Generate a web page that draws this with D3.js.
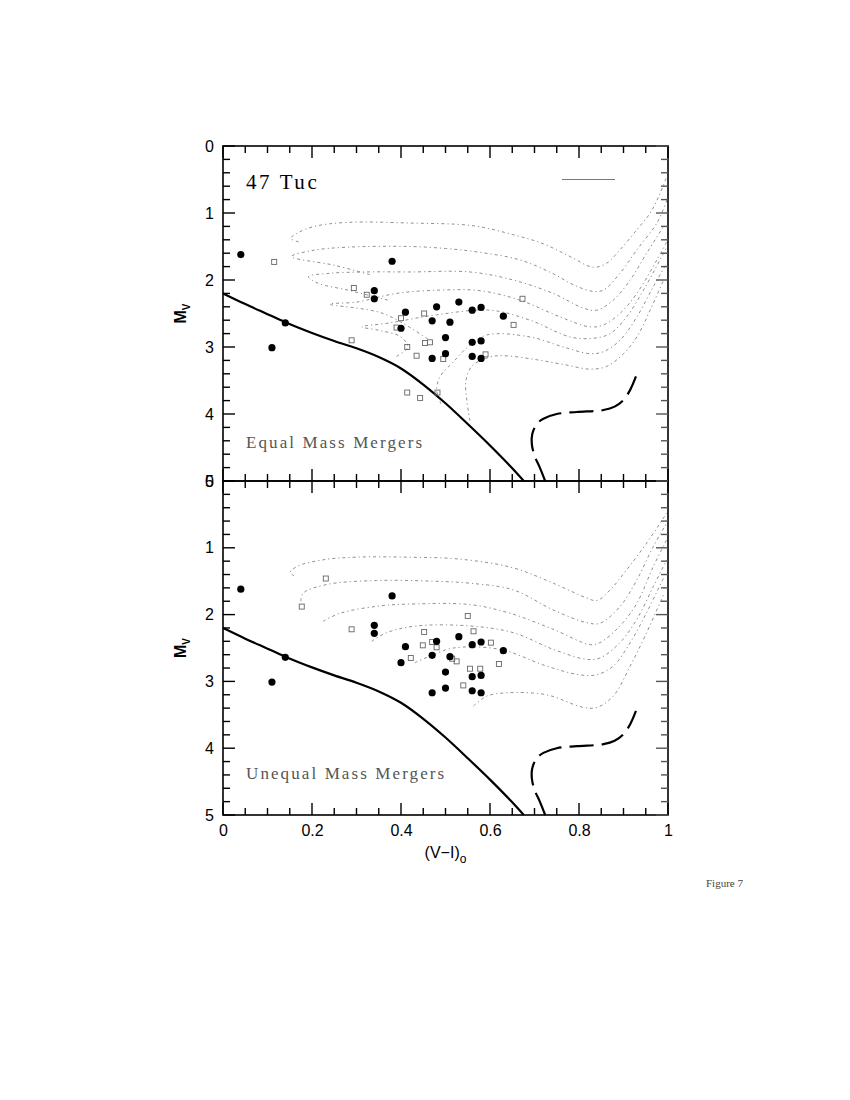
<!DOCTYPE html>
<html><head><meta charset="utf-8">
<script src="https://cdn.jsdelivr.net/npm/d3@7"></script>
<style>body{margin:0;background:#fff}</style>
</head><body>
<svg id="c" width="850" height="1100"></svg>
<script>
// ---- data ----
const xTickLabels = ["0","0.2","0.4","0.6","0.8","1"];
const xTickValues = [0,0.2,0.4,0.6,0.8,1];
const yTickValues = [0,1,2,3,4,5];
const yTickLabels = ["0","1","2","3","4","5"];
const panelTitles = ["Equal Mass Mergers","Unequal Mass Mergers"];
const clusterName = "47 Tuc";

// blue stragglers (filled circles), same in both panels
const stars = [[0.04,1.62],[0.38,1.72],[0.34,2.16],[0.34,2.28],[0.14,2.64],[0.11,3.01],
 [0.41,2.48],[0.48,2.40],[0.53,2.33],[0.56,2.45],[0.58,2.41],[0.63,2.54],[0.40,2.72],
 [0.47,2.61],[0.51,2.63],[0.50,2.86],[0.56,2.93],[0.58,2.91],[0.47,3.17],[0.50,3.10],
 [0.56,3.14],[0.58,3.17]];

// model merger products (open squares)
const equalSquares = [[0.115,1.73],[0.294,2.12],[0.323,2.22],[0.40,2.57],[0.452,2.50],
 [0.39,2.71],[0.289,2.90],[0.414,3.00],[0.454,2.94],[0.465,2.93],[0.435,3.13],[0.495,3.18],
 [0.414,3.68],[0.443,3.76],[0.482,3.68],[0.673,2.28],[0.653,2.67],[0.590,3.11]];
const unequalSquares = [[0.231,1.46],[0.177,1.88],[0.289,2.22],[0.452,2.26],[0.47,2.41],
 [0.48,2.49],[0.449,2.46],[0.422,2.65],[0.55,2.02],[0.563,2.25],[0.602,2.42],[0.525,2.70],
 [0.515,2.66],[0.62,2.74],[0.555,2.81],[0.578,2.81],[0.54,3.06]];

// ZAMS (solid) and giant branch (dashed)
const zams = [[0,2.2],[0.05,2.36],[0.1,2.51],[0.14,2.63],[0.2,2.79],[0.25,2.91],[0.3,3.02],
 [0.35,3.15],[0.4,3.32],[0.45,3.56],[0.5,3.84],[0.55,4.15],[0.6,4.47],[0.65,4.81],[0.676,5.0]];
const giant = [[0.724,5.0],[0.712,4.8],[0.70,4.62],[0.694,4.45],[0.695,4.3],[0.705,4.15],
 [0.72,4.07],[0.75,4.0],[0.795,3.97],[0.855,3.94],[0.88,3.89],[0.90,3.79],[0.915,3.64],[0.928,3.44]];

// evolutionary tracks (dotted)
const equalTracks = [
 [[0.17,1.43],[0.152,1.38],[0.17,1.29],[0.205,1.2],[0.28,1.14],[0.42,1.15],[0.562,1.19],[0.65,1.32],[0.72,1.46],[0.78,1.65],[0.832,1.81],[0.862,1.75],[0.892,1.55],[0.93,1.25],[0.96,1.0],[0.98,0.74],[0.997,0.46]],
 [[0.33,1.92],[0.25,1.78],[0.154,1.65],[0.2,1.56],[0.28,1.51],[0.42,1.50],[0.5,1.53],[0.57,1.58],[0.667,1.70],[0.74,1.9],[0.79,2.08],[0.832,2.17],[0.855,2.15],[0.892,1.9],[0.93,1.55],[0.975,1.15],[0.998,0.8]],
 [[0.37,2.3],[0.28,2.15],[0.214,2.05],[0.192,1.95],[0.24,1.9],[0.32,1.88],[0.42,1.88],[0.555,1.88],[0.652,2.0],[0.742,2.2],[0.81,2.42],[0.84,2.45],[0.877,2.3],[0.915,2.0],[0.952,1.6],[0.99,1.2]],
 [[0.46,2.88],[0.36,2.5],[0.24,2.36],[0.30,2.33],[0.39,2.2],[0.49,2.15],[0.578,2.16],[0.667,2.30],[0.757,2.55],[0.825,2.70],[0.855,2.67],[0.892,2.5],[0.93,2.2],[0.975,1.7],[0.998,1.42]],
 [[0.39,3.14],[0.415,3.0],[0.40,2.85],[0.35,2.75],[0.312,2.70],[0.375,2.64],[0.48,2.52],[0.6,2.45],[0.69,2.6],[0.78,2.85],[0.832,2.87],[0.87,2.8],[0.907,2.55],[0.945,2.15],[0.982,1.7],[0.998,1.5]],
 [[0.49,3.85],[0.48,3.64],[0.488,3.44],[0.518,3.22],[0.55,3.0],[0.593,2.82],[0.69,2.85],[0.765,3.0],[0.825,3.1],[0.855,3.07],[0.892,2.9],[0.93,2.55],[0.967,2.1],[0.997,1.75]],
 [[0.555,4.1],[0.548,3.8],[0.546,3.5],[0.56,3.28],[0.6,3.15],[0.63,3.13],[0.705,3.19],[0.772,3.27],[0.825,3.33],[0.862,3.29],[0.9,3.1],[0.93,2.85],[0.96,2.45],[0.99,2.0]]
];
const unequalTracks = [
 [[0.16,1.42],[0.151,1.37],[0.166,1.28],[0.225,1.18],[0.30,1.14],[0.413,1.14],[0.533,1.17],[0.652,1.30],[0.742,1.53],[0.817,1.75],[0.84,1.79],[0.87,1.63],[0.907,1.33],[0.952,0.93],[0.997,0.48]],
 [[0.175,1.8],[0.18,1.68],[0.233,1.55],[0.345,1.49],[0.473,1.50],[0.555,1.53],[0.652,1.63],[0.742,1.93],[0.817,2.12],[0.847,2.13],[0.892,1.88],[0.93,1.48],[0.967,0.98],[0.997,0.63]],
 [[0.225,2.1],[0.263,1.98],[0.353,1.87],[0.435,1.84],[0.555,1.85],[0.645,1.98],[0.742,2.22],[0.825,2.45],[0.847,2.42],[0.892,2.17],[0.93,1.83],[0.967,1.28],[0.997,0.88]],
 [[0.334,2.40],[0.368,2.27],[0.435,2.17],[0.555,2.17],[0.652,2.27],[0.742,2.52],[0.817,2.67],[0.847,2.65],[0.892,2.42],[0.93,2.07],[0.967,1.58],[0.997,1.18]],
 [[0.431,2.72],[0.473,2.60],[0.518,2.5],[0.622,2.52],[0.727,2.77],[0.80,2.90],[0.84,2.90],[0.877,2.77],[0.915,2.42],[0.952,1.97],[0.99,1.45]],
 [[0.563,3.37],[0.593,3.22],[0.64,3.17],[0.727,3.2],[0.81,3.39],[0.84,3.39],[0.877,3.22],[0.915,2.77],[0.952,2.27],[0.99,1.7]]
];

// ---- drawing ----
const svg = d3.select("#c");
const x = d3.scaleLinear().domain([0,1]).range([223,668]);
const panels = [
  {y: d3.scaleLinear().domain([0,5]).range([146,481]), squares: equalSquares, tracks: equalTracks, title: panelTitles[0], showX:false, titleY:448},
  {y: d3.scaleLinear().domain([0,5]).range([481,815]), squares: unequalSquares, tracks: unequalTracks, title: panelTitles[1], showX:true, titleY:779}
];
const sans = "'Liberation Sans', Arial, sans-serif";
const serif = "'Liberation Serif', 'Times New Roman', serif";

panels.forEach((p, i) => {
  const g = svg.append("g");
  const y = p.y;
  const line = d3.line().x(d => x(d[0])).y(d => y(d[1])).curve(d3.curveCatmullRom.alpha(0.5));
  const mline = d3.line().x(d => x(d[0])).y(d => y(d[1])).curve(d3.curveMonotoneX);

  // tracks
  g.selectAll(".trk").data(p.tracks).join("path")
    .attr("d", line).attr("fill","none").attr("stroke","#8f8f8f")
    .attr("stroke-width",1).attr("stroke-dasharray","3,3,1.2,3");

  // zams and giant branch
  g.append("path").datum(zams).attr("d", mline).attr("fill","none")
    .attr("stroke","#000").attr("stroke-width",2.2);
  g.append("path").datum(giant).attr("d", line).attr("fill","none")
    .attr("stroke","#000").attr("stroke-width",2.2).attr("stroke-dasharray","24,8");

  // squares
  g.selectAll(".sq").data(p.squares).join("rect")
    .attr("x", d => x(d[0]) - 2.5).attr("y", d => y(d[1]) - 2.5)
    .attr("width",5).attr("height",5).attr("fill","none")
    .attr("stroke","#666").attr("stroke-width",0.9);

  // stars
  g.selectAll(".st").data(stars).join("circle")
    .attr("cx", d => x(d[0])).attr("cy", d => y(d[1])).attr("r",3.6).attr("fill","#000");

  // frame and inward ticks
  const xMinor = d3.range(0, 1.0001, 0.05);
  const yMinor = d3.range(0, 5.0001, 0.2);
  g.append("rect").attr("x",x(0)).attr("y",y(0)).attr("width",x(1)-x(0)).attr("height",y(5)-y(0))
    .attr("fill","none").attr("stroke","#000").attr("stroke-width",1.6);
  const isMajorX = v => Math.abs(v*5 - Math.round(v*5)) < 1e-6;
  const isMajorY = v => Math.abs(v - Math.round(v)) < 1e-6;
  [[y(0),1],[y(5),-1]].forEach(([yy,dir]) => {
    g.selectAll(null).data(xMinor).join("line")
      .attr("x1", d => x(d)).attr("x2", d => x(d))
      .attr("y1", yy).attr("y2", d => yy + dir*(isMajorX(d)?12:7))
      .attr("stroke","#000").attr("stroke-width",1.4);
  });
  [[x(0),1],[x(1),-1]].forEach(([xx,dir]) => {
    g.selectAll(null).data(yMinor).join("line")
      .attr("y1", d => y(d)).attr("y2", d => y(d))
      .attr("x1", xx).attr("x2", d => xx + dir*(isMajorY(d)?12:7))
      .attr("stroke", dir>0 ? "#000" : "#555").attr("stroke-width",1.4);
  });

  // y tick labels
  const yAxis = d3.axisLeft(y).tickValues(yTickValues).tickSize(0).tickPadding(9)
    .tickFormat((d,j) => yTickLabels[j]);
  const ya = g.append("g").attr("transform",`translate(${x(0)},0)`).call(yAxis);
  ya.select(".domain").remove();
  ya.selectAll("text").attr("font-family",sans).attr("font-size",16).attr("fill","#000");

  if (p.showX) {
    const xAxis = d3.axisBottom(x).tickValues(xTickValues).tickSize(0).tickPadding(10)
      .tickFormat((d,j) => xTickLabels[j]);
    const xa = g.append("g").attr("transform",`translate(0,${y(5)})`).call(xAxis);
    xa.select(".domain").remove();
    xa.selectAll("text").attr("font-family",sans).attr("font-size",16).attr("fill","#000");
    const xt = g.append("text").attr("x",(x(0)+x(1))/2).attr("y",858).attr("text-anchor","middle")
      .attr("font-family",sans).attr("font-size",16).attr("fill","#000");
    xt.append("tspan").text("(V\u2212I)");
    xt.append("tspan").attr("dy",5).attr("font-size",12).text("o");
  }

  // y title
  const yt = g.append("text").attr("transform",`translate(186,${(y(0)+y(5))/2}) rotate(-90)`)
    .attr("text-anchor","middle").attr("font-family",sans).attr("font-size",16)
    .attr("font-weight","bold").attr("fill","#000");
  yt.append("tspan").text("M");
  yt.append("tspan").attr("dy",4).attr("font-size",10).text("V");

  // panel title
  g.append("text").attr("x",246).attr("y", p.titleY)
    .attr("font-family",serif).attr("font-size",17).attr("letter-spacing",2.1)
    .attr("fill","#555").text(p.title);

  if (i===0) {
    g.append("text").attr("x",246).attr("y",189).attr("font-family",serif)
      .attr("font-size",21).attr("letter-spacing",2.6).attr("fill","#000").text(clusterName);
    g.append("line").attr("x1",562).attr("x2",615).attr("y1",179.5).attr("y2",179.5)
      .attr("stroke","#777").attr("stroke-width",1.2);
  }
});

svg.append("text").attr("x",706).attr("y",887).attr("font-family",serif)
  .attr("font-size",11).attr("fill","#444").text("Figure 7");
</script>
</body></html>
